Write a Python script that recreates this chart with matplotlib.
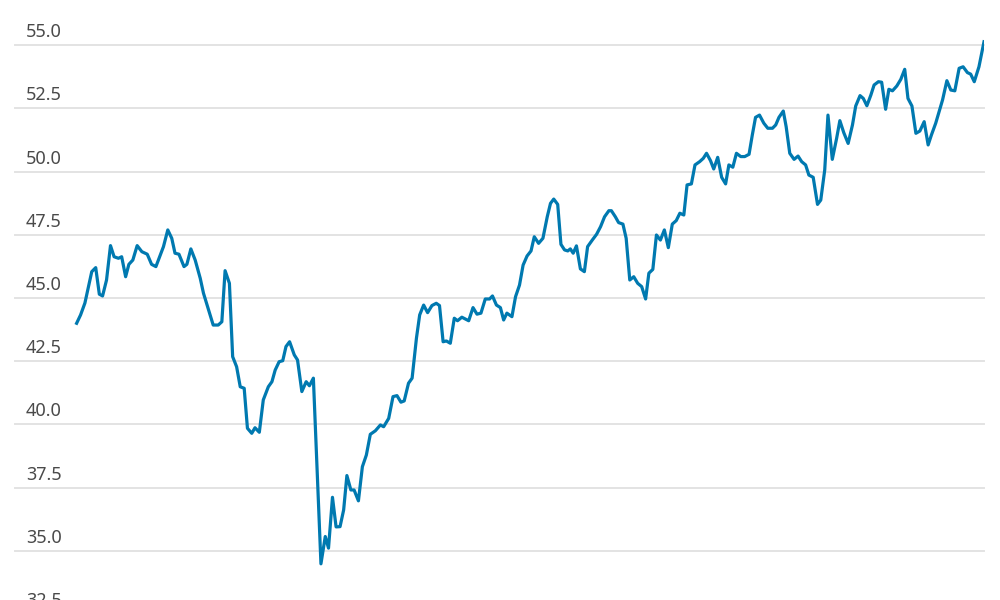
import matplotlib.pyplot as plt

# months since the first observation
months = [0, 1.1, 2.3, 4.2, 5.3, 6.3, 7.2, 8.3, 9.4, 10.4, 11.6, 12.5, 13.6, 14.5,
          15.6, 16.8, 18.1, 19.6, 20.8, 22.0, 24.1, 25.3, 26.4, 27.3, 28.4, 29.8,
          30.6, 31.7, 32.9, 34.3, 35.2, 36.6, 37.9, 39.3, 40.3, 41.2, 42.4, 43.3,
          44.4, 45.4, 46.5, 47.4, 48.6, 49.5, 50.7, 51.8, 53.2, 54.2, 55.1, 56.2,
          57.2, 58.1, 59.1, 60.4, 61.3, 62.5, 63.7, 64.6, 65.7, 67.8, 69.0, 69.9,
          71.0, 72.0, 73.1, 74.1, 75.0, 76.1, 77.0, 78.2, 79.3, 80.4, 81.5, 82.9,
          84.3, 85.2, 86.6, 87.8, 88.9, 90.0, 90.9, 92.1, 93.1, 94.3, 95.2, 96.3,
          97.4, 98.6, 99.8, 100.7, 101.7, 102.6, 103.7, 104.8, 105.7, 106.9, 108.8,
          110.0, 111.1, 112.2, 113.4, 114.6, 115.4, 116.5, 117.6, 118.5, 119.4,
          120.8, 121.8, 122.9, 123.9, 125.0, 126.1, 127.0, 128.2, 129.4, 130.6,
          131.5, 132.4, 133.5, 134.4, 135.4, 136.3, 137.0, 137.8, 138.7, 139.8,
          140.9, 141.8, 143.1, 144.3, 145.4, 146.5, 147.7, 148.4, 149.5, 150.4,
          151.6, 152.5, 153.5, 154.6, 155.7, 156.8, 157.9, 158.8, 159.9, 160.9,
          162.0, 163.1, 164.2, 165.3, 166.4, 167.4, 168.5, 169.4, 170.6, 171.6,
          172.9, 173.9, 174.8, 175.9, 176.8, 177.9, 179.0, 180.1, 181.0, 182.1,
          183.1, 184.3, 185.4, 186.6, 187.5, 188.4, 189.5, 190.7, 191.8, 193.1,
          194.0, 194.9, 196.1, 196.9, 197.9, 199.1, 200.2, 201.2, 202.3, 203.2,
          204.4, 205.6, 206.5, 207.6, 208.5, 209.7, 210.9, 211.8, 212.9, 214.1,
          215.3, 216.2, 217.4, 218.3, 219.3, 220.4, 221.3, 222.5, 223.4, 224.5,
          225.4, 226.4, 227.6, 228.7, 229.8, 230.7, 231.8, 232.9, 234.0, 235.2,
          236.3, 237.2, 238.4, 240.3, 241.5, 242.6, 243.7, 244.9, 246.0, 247.2,
          248.1, 249.1, 250.4, 251.8]

values = [44.0, 44.33, 44.8, 46.04, 46.2, 45.15, 45.08, 45.71, 47.07, 46.63, 46.57,
          46.63, 45.84, 46.33, 46.5, 47.07, 46.83, 46.73, 46.33, 46.24, 47.03, 47.69,
          47.36, 46.77, 46.73, 46.24, 46.33, 46.94, 46.5, 45.78, 45.19, 44.53, 43.93,
          43.93, 44.06, 46.08, 45.58, 42.68, 42.28, 41.49, 41.43, 39.85, 39.65, 39.87,
          39.69, 40.97, 41.49, 41.69, 42.15, 42.48, 42.52, 43.08, 43.27, 42.75, 42.55,
          41.3, 41.69, 41.53, 41.83, 34.49, 35.57, 35.11, 37.12, 35.95, 35.96, 36.62,
          37.98, 37.41, 37.41, 36.98, 38.33, 38.79, 39.61, 39.75, 39.98, 39.91, 40.24,
          41.1, 41.14, 40.88, 40.93, 41.63, 41.83, 43.41, 44.33, 44.72, 44.42, 44.7,
          44.79, 44.7, 43.27, 43.3, 43.21, 44.2, 44.1, 44.24, 44.1, 44.62, 44.36,
          44.4, 44.96, 44.96, 45.08, 44.72, 44.62, 44.13, 44.4, 44.26, 45.05, 45.51,
          46.3, 46.66, 46.86, 47.42, 47.16, 47.36, 48.21, 48.74, 48.91, 48.7, 47.12,
          46.9, 46.86, 46.94, 46.77, 47.06, 46.15, 46.04, 47.03, 47.29, 47.52, 47.82,
          48.21, 48.45, 48.45, 48.21, 47.98, 47.92, 47.36, 45.71, 45.84, 45.58, 45.45,
          44.96, 45.98, 46.13, 47.49, 47.29, 47.69, 46.99, 47.92, 48.06, 48.35, 48.28,
          49.47, 49.51, 50.26, 50.39, 50.52, 50.72, 50.43, 50.1, 50.56, 49.77, 49.51,
          50.26, 50.17, 50.72, 50.59, 50.59, 50.68, 51.44, 52.14, 52.23, 51.91, 51.71,
          51.71, 51.84, 52.14, 52.39, 51.77, 50.72, 50.48, 50.61, 50.39, 50.26, 49.86,
          49.77, 48.7, 48.87, 50.06, 52.23, 50.48, 51.31, 52.01, 51.53, 51.11, 51.84,
          52.59, 53.0, 52.89, 52.6, 53.02, 53.42, 53.55, 53.53, 52.46, 53.25, 53.19,
          53.38, 53.64, 54.04, 52.89, 52.59, 51.51, 51.6, 51.97, 51.05, 51.44, 51.91,
          52.83, 53.59, 53.22, 53.19, 54.08, 54.14, 53.91, 53.85, 53.55, 54.14, 55.13]

tick_values = [32.5, 35.0, 37.5, 40.0, 42.5, 45.0, 47.5, 50.0, 52.5, 55.0]

plt.rcParams['font.family'] = ['Noto Sans', 'DejaVu Sans']

fig = plt.figure(figsize=(10, 6), dpi=100)
ax = fig.add_axes([0.015, 0.0, 0.969, 1.0])

ax.plot(months, values, color='#0079b0', linewidth=2.3, solid_joinstyle='round',
        zorder=3)

ax.set_xlim(-17.1, 251.8)
ax.set_ylim(33.06, 56.78)

for v in tick_values:
    ax.axhline(v, color='#e3e3e3', linewidth=1.4, zorder=1, clip_on=False)
    ax.annotate('{:.1f}'.format(v), xy=(0, v), xycoords=('axes fraction', 'data'),
                xytext=(11, 4), textcoords='offset pixels',
                ha='left', va='bottom', fontsize=13, color='#4a4a4a',
                annotation_clip=False)

ax.set_xticks([])
ax.set_yticks([])
for s in ax.spines.values():
    s.set_visible(False)

fig.savefig('out.png', dpi=100)
